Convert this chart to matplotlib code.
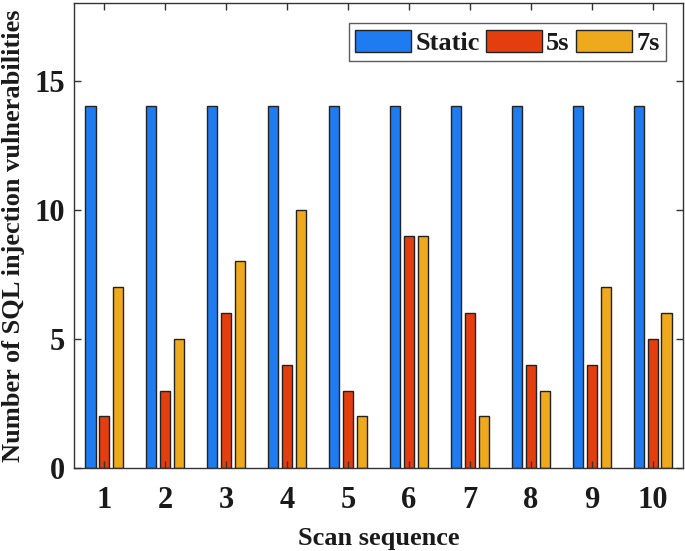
import matplotlib
matplotlib.use("Agg")
import matplotlib.pyplot as plt
import numpy as np

plt.rcParams['font.family'] = ['Liberation Serif', 'DejaVu Serif']
plt.rcParams['font.weight'] = 'bold'

scans = [1, 2, 3, 4, 5, 6, 7, 8, 9, 10]
static = [14, 14, 14, 14, 14, 14, 14, 14, 14, 14]
s5 = [2, 3, 6, 4, 3, 9, 6, 4, 4, 5]
s7 = [7, 5, 8, 10, 2, 9, 2, 3, 7, 6]
labels = ['Static', '5s', '7s']
colors = ['#1f7cf0', '#e53e0e', '#eeaa1c']

W, H = 685, 551
fig = plt.figure(figsize=(W / 100, H / 100), dpi=100)
ax = fig.add_axes([74 / W, (H - 468) / H, 609 / W, 465 / H])
x = np.array(scans, dtype=float)
w = 0.165
off = 0.229
for i, (vals, lab, c) in enumerate(zip([static, s5, s7], labels, colors)):
    ax.bar(x + (i - 1) * off, vals, width=w, color=c, edgecolor='#222222',
           linewidth=1.0, label=lab)

ax.set_xlim(0.5, 10.5)
ax.set_ylim(0, 18)
ax.set_xticks(scans)
ax.set_yticks([0, 5, 10, 15])
ax.tick_params(direction='in', top=True, right=True, labelsize=22, length=5,
               width=1, color='#333333')
ax.tick_params(axis='x', pad=13)
ax.tick_params(axis='y', pad=6.5)
for lab in ax.get_xticklabels() + ax.get_yticklabels():
    lab.set_fontweight('bold')
    lab.set_color('#1a1a1a')
for s in ax.spines.values():
    s.set_linewidth(1.0)
    s.set_color('#333333')
ax.set_xlabel('Scan sequence', fontsize=19, fontweight='bold', labelpad=8.5,
              color='#1a1a1a')
ax.set_ylabel('Number of SQL injection vulnerabilities', fontsize=19,
              fontweight='bold', labelpad=7, color='#1a1a1a')
leg = ax.legend(ncol=3, loc='upper right', fontsize=19, frameon=True,
                fancybox=False, edgecolor='#333333', handlelength=2.12,
                handleheight=0.9, columnspacing=0.25, handletextpad=0.15,
                borderpad=0.25, borderaxespad=0,
                bbox_to_anchor=((666 - 74) / 609, (468 - 23) / 465))
leg.get_frame().set_linewidth(1.0)
for t in leg.get_texts():
    t.set_fontweight('bold')
    t.set_color('#1a1a1a')
fig.savefig('out.png', dpi=100)
